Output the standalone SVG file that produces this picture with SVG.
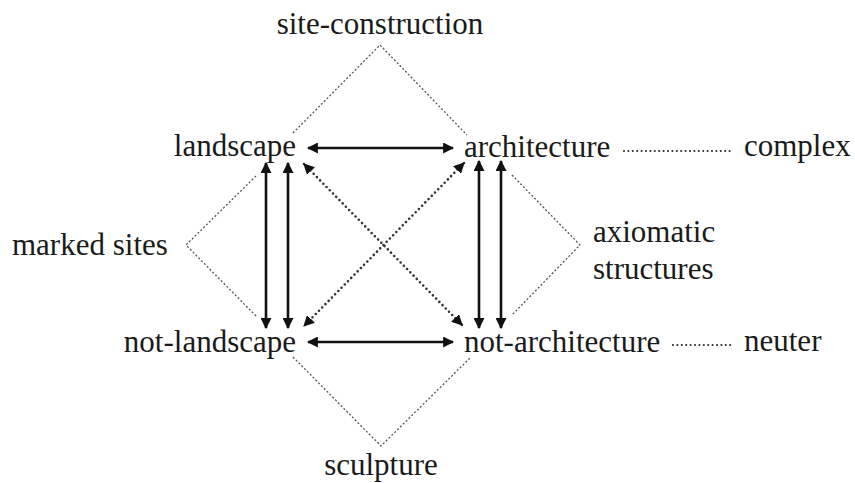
<svg xmlns="http://www.w3.org/2000/svg" width="855" height="483" viewBox="0 0 855 483">
<defs>
<style>
text{font-family:'Liberation Serif','Times New Roman','DejaVu Serif',serif;font-size:31px;fill:#1a1a1a}
.arr{stroke:#111;stroke-width:2.6;fill:none}
.dot{stroke:#333;stroke-width:2.6;fill:none;stroke-dasharray:0 4.6;stroke-linecap:round}
.thin{stroke:#555;stroke-width:1.3;fill:none;stroke-dasharray:2 2}
.lead{stroke:#333;stroke-width:2.2;fill:none;stroke-dasharray:0 4.4;stroke-linecap:round}
</style>
<marker id="ah" viewBox="0 0 10 10" refX="9" refY="5" markerUnits="userSpaceOnUse" markerWidth="11" markerHeight="11" orient="auto-start-reverse">
<path d="M0,0 L10,5 L0,10 z" fill="#111"/>
</marker>
</defs>
<rect width="855" height="483" fill="#fff"/>
<g id="connectors">
<path class="thin" d="M293,133 L380,45 L467,135"/>
<path class="thin" d="M256,176 L186,245 L256,316"/>
<path class="thin" d="M512,175 L580,245 L512,315"/>
<path class="thin" d="M293,357 L381,446 L470,358"/>
<line class="lead" x1="624" y1="151" x2="733" y2="151"/>
<line class="lead" x1="673" y1="345" x2="733" y2="345"/>
<line class="arr" x1="308" y1="148" x2="453" y2="148" marker-start="url(#ah)" marker-end="url(#ah)"/>
<line class="arr" x1="308" y1="342" x2="453" y2="342" marker-start="url(#ah)" marker-end="url(#ah)"/>
<line class="arr" x1="266" y1="163" x2="266" y2="328" marker-start="url(#ah)" marker-end="url(#ah)"/>
<line class="arr" x1="288" y1="163" x2="288" y2="328" marker-start="url(#ah)" marker-end="url(#ah)"/>
<line class="arr" x1="479" y1="161" x2="479" y2="328" marker-start="url(#ah)" marker-end="url(#ah)"/>
<line class="arr" x1="501" y1="161" x2="501" y2="328" marker-start="url(#ah)" marker-end="url(#ah)"/>
<line class="dot" x1="304" y1="164" x2="462" y2="325" marker-start="url(#ah)" marker-end="url(#ah)"/>
<line class="dot" x1="464" y1="163" x2="304" y2="326" marker-start="url(#ah)" marker-end="url(#ah)"/>
</g>
<g font-family="Liberation Serif, Times New Roman, serif" font-size="31">
<g id="site-construction"><text x="380" y="34" text-anchor="middle">site-construction</text></g>
<g id="landscape"><text x="296" y="156" text-anchor="end">landscape</text></g>
<g id="architecture"><text x="464" y="157">architecture</text></g>
<g id="complex"><text x="744" y="156">complex</text></g>
<g id="marked-sites"><text x="12" y="255">marked sites</text></g>
<g id="axiomatic-structures"><text x="593" y="242">axiomatic</text><text x="593" y="279">structures</text></g>
<g id="not-landscape"><text x="296" y="352" text-anchor="end">not-landscape</text></g>
<g id="not-architecture"><text x="464" y="352">not-architecture</text></g>
<g id="neuter"><text x="744" y="351">neuter</text></g>
<g id="sculpture"><text x="381" y="475" text-anchor="middle">sculpture</text></g>
</g>
</svg>
